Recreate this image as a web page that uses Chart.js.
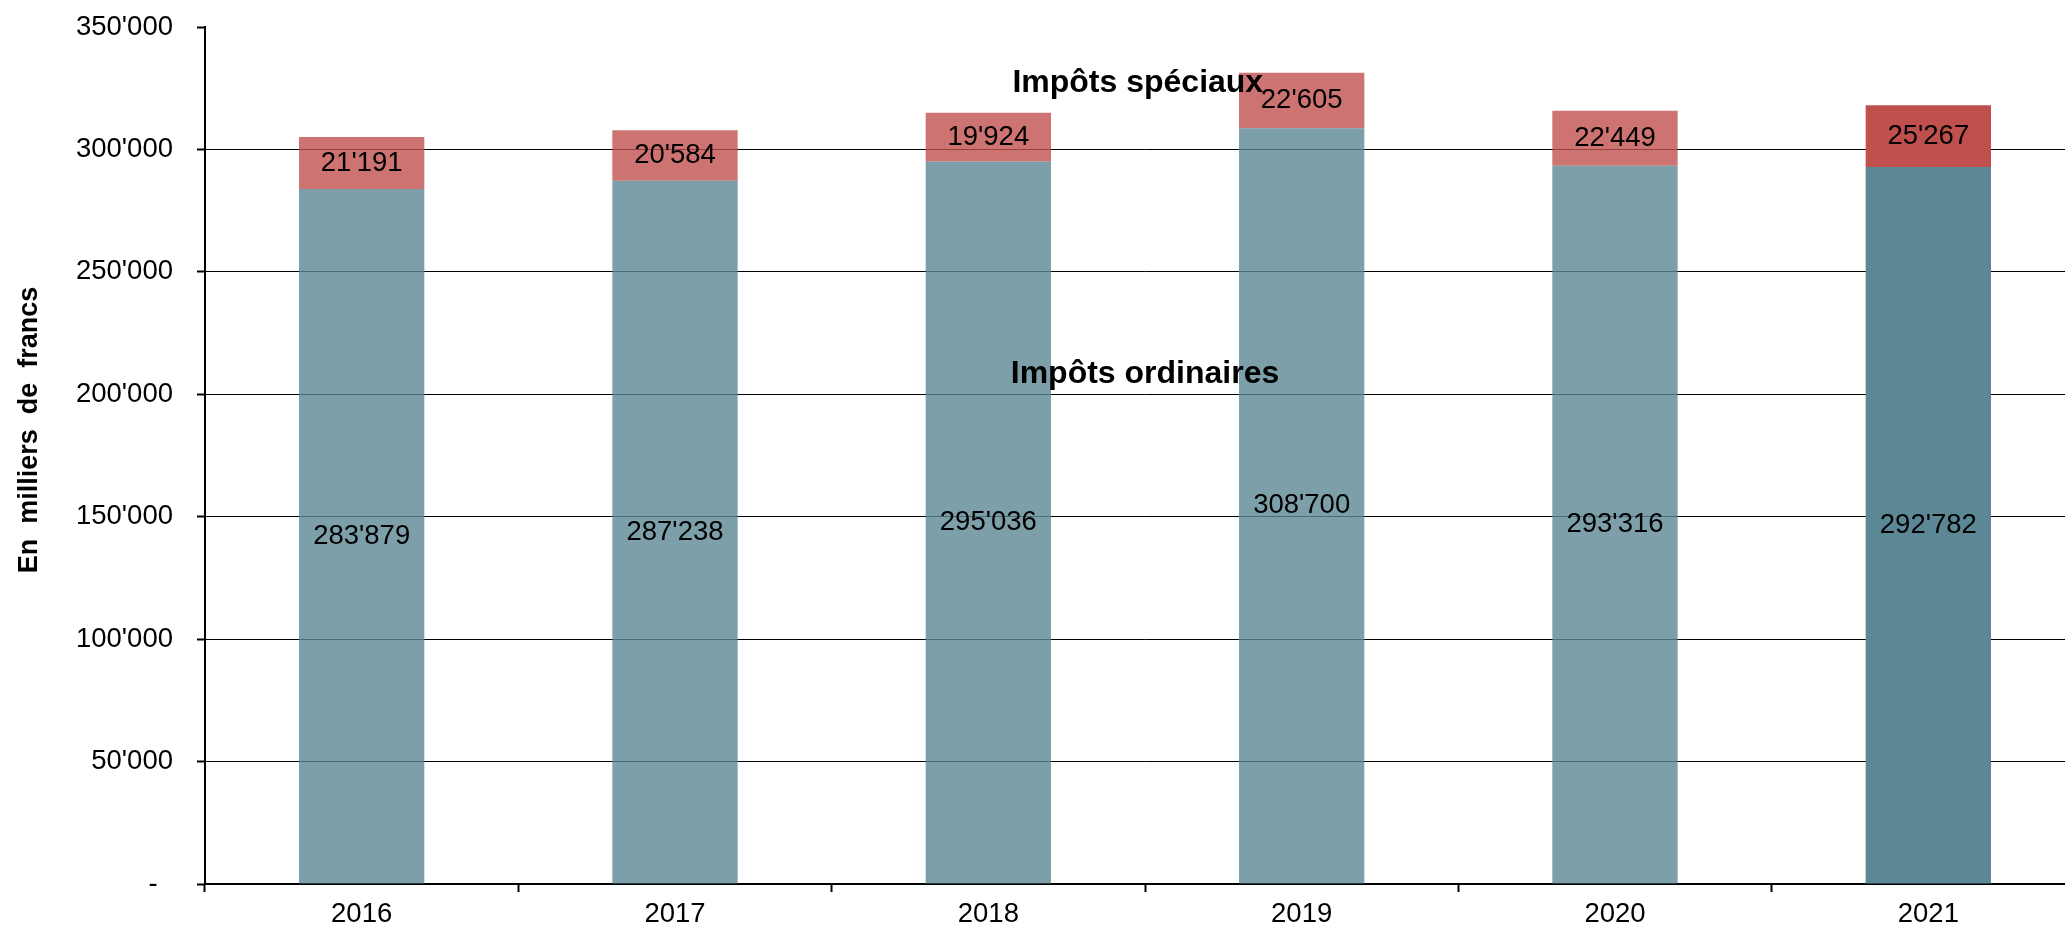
<!DOCTYPE html>
<html lang="fr">
<head>
<meta charset="utf-8">
<title>Impôts ordinaires et spéciaux</title>
<script src="https://cdn.jsdelivr.net/npm/chart.js@4/dist/chart.umd.min.js"></script>
<style>
    html, body {
        margin: 0;
        padding: 0;
        background: #ffffff;
        overflow: hidden;
    }
    #taxChart {
        position: absolute;
        left: 0;
        top: 0;
    }
</style>
</head>
<body>
<canvas id="taxChart" width="2085" height="930"></canvas>
<script>
// Data (en milliers de francs)
const years = ["2016", "2017", "2018", "2019", "2020", "2021"];
const ordinaryTaxes = [283879, 287238, 295036, 308700, 293316, 292782];
const specialTaxes = [21191, 20584, 19924, 22605, 22449, 25267];
const yMax = 350000;
const yStep = 50000;

// Annotation labels, positioned in data units
const annotations = [
    { text: "Impôts spéciaux", x: 2.477, y: 323500 },
    { text: "Impôts ordinaires", x: 2.5, y: 204600 },
];

const FONT = "'Liberation Sans', Arial, sans-serif";
const TEAL = "92, 135, 149";
const RED = "192, 80, 77";

// last year opaque, earlier years lighter (transparent)
function barColors(rgb) {
    return years.map((y, i) =>
        i === years.length - 1 ? `rgb(${rgb})` : `rgba(${rgb}, 0.8)`
    );
}

function formatNumber(v) {
    return String(v).replace(/\B(?=(\d{3})+(?!\d))/g, "'");
}

// Value labels centred in each bar segment
const valueLabels = {
    id: "valueLabels",
    afterDatasetsDraw(chart) {
        const ctx = chart.ctx;
        ctx.save();
        ctx.font = `27.5px ${FONT}`;
        ctx.fillStyle = "#000";
        ctx.textAlign = "center";
        ctx.textBaseline = "middle";
        chart.data.datasets.forEach((ds, di) => {
            const meta = chart.getDatasetMeta(di);
            meta.data.forEach((bar, i) => {
                const y = (bar.y + bar.base) / 2;
                ctx.fillText(formatNumber(ds.data[i]), bar.x, y);
            });
        });
        ctx.restore();
    },
};

// Bold series names + rotated y axis title
const textLayer = {
    id: "textLayer",
    afterDraw(chart) {
        const ctx = chart.ctx;
        const xs = chart.scales.x;
        const ys = chart.scales.y;
        ctx.save();
        ctx.fillStyle = "#000";
        ctx.font = `bold 32px ${FONT}`;
        ctx.textAlign = "center";
        ctx.textBaseline = "alphabetic";
        annotations.forEach((a) => {
            ctx.fillText(a.text, xs.getPixelForValue(a.x), ys.getPixelForValue(a.y));
        });

        ctx.translate(30, 430);
        ctx.rotate(-Math.PI / 2);
        ctx.font = `bold 27px ${FONT}`;
        ctx.textBaseline = "middle";
        ctx.fillText("En  milliers  de  francs", 0, 0);
        ctx.restore();
    },
};

new Chart(document.getElementById("taxChart"), {
    type: "bar",
    data: {
        labels: years,
        datasets: [
            {
                label: "Impôts ordinaires",
                data: ordinaryTaxes,
                backgroundColor: barColors(TEAL),
                borderWidth: 0,
                barPercentage: 0.4,
                categoryPercentage: 1,
            },
            {
                label: "Impôts spéciaux",
                data: specialTaxes,
                backgroundColor: barColors(RED),
                borderWidth: 0,
                barPercentage: 0.4,
                categoryPercentage: 1,
            },
        ],
    },
    options: {
        responsive: false,
        animation: false,
        layout: { padding: { top: 27, right: 0, bottom: 0, left: 0 } },
        plugins: {
            legend: { display: false },
            tooltip: { enabled: false },
        },
        scales: {
            x: {
                stacked: true,
                border: { color: "#000", width: 2 },
                grid: {
                    offset: true,
                    drawOnChartArea: false,
                    tickLength: 8,
                    tickColor: "#000",
                    tickWidth: 2,
                },
                ticks: {
                    color: "#000",
                    padding: 6,
                    font: { family: FONT, size: 27.5 },
                },
                afterFit: (scale) => {
                    scale.height = 46;
                },
            },
            y: {
                stacked: true,
                min: 0,
                max: yMax,
                border: { color: "#000", width: 2 },
                grid: {
                    color: (c) =>
                        c.tick && (c.tick.value === 0 || c.tick.value === yMax)
                            ? "rgba(0,0,0,0)"
                            : "#000",
                    lineWidth: 1,
                    tickLength: 8,
                    tickColor: "#000",
                    tickWidth: 2,
                },
                ticks: {
                    stepSize: yStep,
                    color: "#000",
                    padding: 24,
                    font: { family: FONT, size: 27.5 },
                    callback: (v) => (v === 0 ? "-  " : formatNumber(v)),
                },
                afterFit: (scale) => {
                    scale.width = 205;
                    scale.paddingTop = 0;
                    scale.paddingBottom = 0;
                },
            },
        },
    },
    plugins: [valueLabels, textLayer],
});
</script>
</body>
</html>
